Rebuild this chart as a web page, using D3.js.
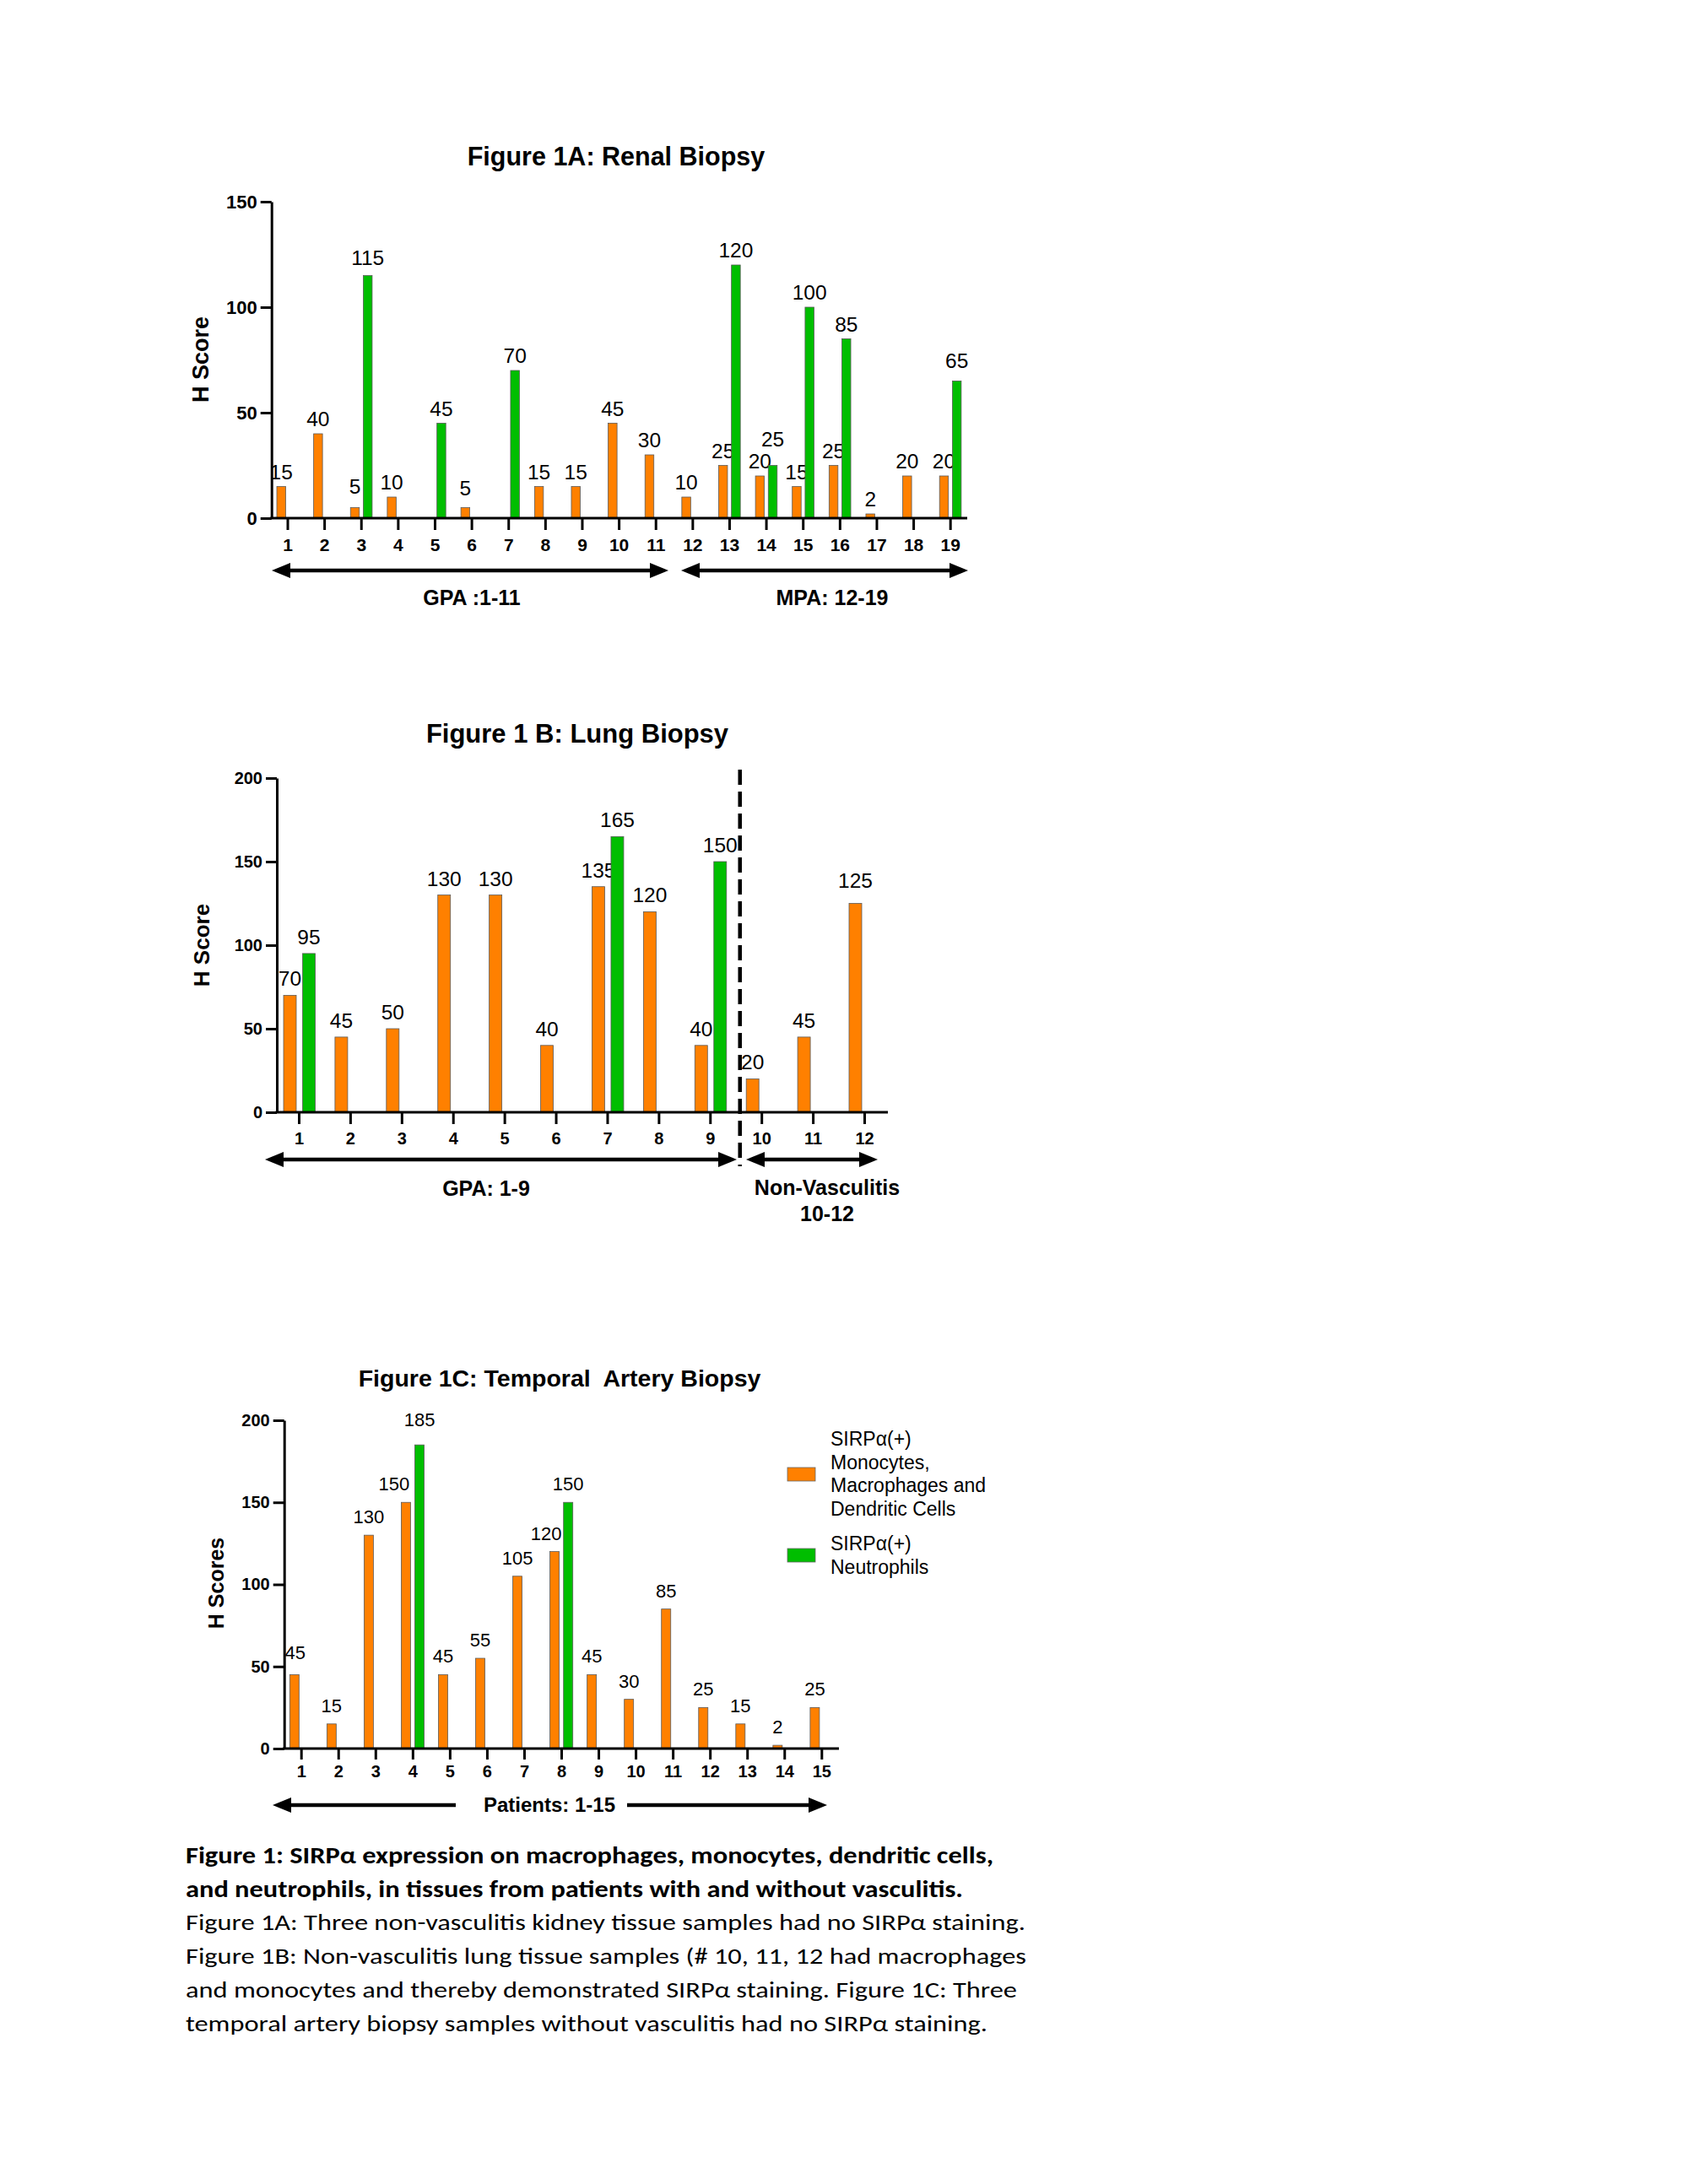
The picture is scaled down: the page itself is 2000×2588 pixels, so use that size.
<!DOCTYPE html>
<html>
<head>
<meta charset="utf-8">
<script src="https://cdn.jsdelivr.net/npm/d3@7"></script>
<style>
  body { margin: 0; background: #fff; }
  svg { display: block; }
  text { font-family: "Liberation Sans", Arial, sans-serif; fill: #000; }
</style>
</head>
<body>
<svg id="fig" width="2000" height="2588"></svg>
<script>
// ── Figura 1A: biopsia renal ──
const renalPatients = ["1","2","3","4","5","6","7","8","9","10","11","12","13","14","15","16","17","18","19"];
const renalMono = [15, 40, 5, 10, null, 5, null, 15, 15, 45, 30, 10, 25, 20, 15, 25, 2, 20, 20];
const renalNeut = [null, null, 115, null, 45, null, 70, null, null, null, null, null, 120, 25, 100, 85, null, null, 65];
const renalTicks = [0, 50, 100, 150];

// ── Figura 1B: biopsia pulmonar ──
const lungPatients = ["1","2","3","4","5","6","7","8","9","10","11","12"];
const lungMono = [70, 45, 50, 130, 130, 40, 135, 120, 40, 20, 45, 125];
const lungNeut = [95, null, null, null, null, null, 165, null, 150, null, null, null];
const lungTicks = [0, 50, 100, 150, 200];

// ── Figura 1C: biopsia de arteria temporal ──
const arteryPatients = ["1","2","3","4","5","6","7","8","9","10","11","12","13","14","15"];
const arteryMono = [45, 15, 130, 150, 45, 55, 105, 120, 45, 30, 85, 25, 15, 2, 25];
const arteryNeut = [null, null, null, 185, null, null, null, 150, null, null, null, null, null, null, null];
const arteryTicks = [0, 50, 100, 150, 200];

const legendLabels = [
  ["SIRPα(+)", "Monocytes,", "Macrophages and", "Dendritic Cells"],
  ["SIRPα(+)", "Neutrophils"]
];

const captionLines = [
  "Figure 1: SIRPα expression on macrophages, monocytes, dendritic cells,",
  "and neutrophils, in tissues from patients with and without vasculitis.",
  "Figure 1A: Three non-vasculitis kidney tissue samples had no SIRPα staining.",
  "Figure 1B: Non-vasculitis lung tissue samples (# 10, 11, 12 had macrophages",
  "and monocytes and thereby demonstrated SIRPα staining. Figure 1C: Three",
  "temporal artery biopsy samples without vasculitis had no SIRPα staining."
];
const captionWidths = [957, 921, 995, 996, 985, 950];

const ORANGE = "#FF8000";
const GREEN = "#00BE00";

// ajustes manuales de etiquetas (como en el original), clave "serie-paciente": [dx, dy]
const nudgeA = { "neut-14": [0, -14], "neut-3": [0, -4], "neut-19": [0, -7], "mono-3": [0, -8], "mono-6": [0, -6] };
const nudgeB = { "mono-12": [0, -8] };
const nudgeC = { "mono-4": [-14, 0], "mono-8": [-10, 0], "neut-4": [0, -8], "mono-1": [1, -4] };

const svg = d3.select("#fig");

function arrow(g, xa, xb, y, leftHead, rightHead, hl, hh) {
  g.append("line")
    .attr("x1", leftHead ? xa + hl - 2 : xa).attr("x2", rightHead ? xb - hl + 2 : xb)
    .attr("y1", y).attr("y2", y)
    .attr("stroke", "#000").attr("stroke-width", 4.5);
  if (leftHead) g.append("path")
    .attr("d", `M${xa},${y} L${xa + hl},${y - hh} L${xa + hl},${y + hh} Z`).attr("fill", "#000");
  if (rightHead) g.append("path")
    .attr("d", `M${xb},${y} L${xb - hl},${y - hh} L${xb - hl},${y + hh} Z`).attr("fill", "#000");
}

function panel(p) {
  const g = svg.append("g");
  const x = d3.scalePoint().domain(p.cats).range([p.x1, p.xN]);
  const y = d3.scaleLinear().domain([0, p.yMax]).range([p.y0, p.yTop]);
  const nudge = p.nudge || {};

  // Barras + etiquetas de valor
  [
    { key: "mono", vals: p.mono, color: ORANGE, off: p.monoOff },
    { key: "neut", vals: p.neut, color: GREEN, off: p.neutOff }
  ].forEach(s => {
    const data = p.cats.map((c, i) => ({ c, v: s.vals[i], n: nudge[s.key + "-" + c] || [0, 0] }))
      .filter(d => d.v != null);
    g.append("g").selectAll("rect").data(data).join("rect")
      .attr("x", d => x(d.c) + s.off).attr("width", p.barW)
      .attr("y", d => y(d.v)).attr("height", d => y(0) - y(d.v))
      .attr("fill", s.color).attr("stroke", "#5a5a5a").attr("stroke-width", 0.8);
    g.append("g").selectAll("text").data(data).join("text")
      .attr("x", d => x(d.c) + s.off + p.barW / 2 + d.n[0])
      .attr("y", d => y(d.v) - p.labGap + d.n[1])
      .attr("text-anchor", "middle").attr("font-size", p.labFs)
      .text(d => d.v);
  });

  // Eje Y
  const ya = g.append("g").attr("transform", `translate(${p.axisX},0)`)
    .call(d3.axisLeft(y).tickValues(p.yTicks).tickSize(13).tickSizeOuter(0).tickPadding(4));
  ya.selectAll("path, line").attr("stroke", "#000").attr("stroke-width", 3);
  ya.selectAll("text").attr("font-size", p.yFs).attr("font-weight", "bold");

  // Eje X
  g.append("line")
    .attr("x1", p.axisX - 1.5).attr("x2", p.axisEnd)
    .attr("y1", p.y0).attr("y2", p.y0)
    .attr("stroke", "#000").attr("stroke-width", 3);
  const xa = g.append("g").attr("transform", `translate(0,${p.y0})`)
    .call(d3.axisBottom(x).tickSize(p.xTickLen).tickPadding(p.xPad));
  xa.select(".domain").remove();
  xa.selectAll("line").attr("stroke", "#000").attr("stroke-width", 3);
  xa.selectAll("text").attr("font-size", p.xFs).attr("font-weight", "bold");

  // Título del eje Y
  g.append("text")
    .attr("transform", `translate(${p.yLab[0]},${p.yLab[1]}) rotate(-90)`)
    .attr("text-anchor", "middle").attr("dominant-baseline", "central")
    .attr("font-size", p.yLabFs).attr("font-weight", "bold")
    .text(p.yLabel);

  // Título
  g.append("text")
    .attr("x", p.title[0]).attr("y", p.title[1])
    .attr("text-anchor", "middle").attr("font-size", p.titleFs).attr("font-weight", "bold")
    .style("white-space", "pre")
    .text(p.titleText);

  return { g, x, y };
}

// ── 1A ──
const A = panel({
  cats: renalPatients, mono: renalMono, neut: renalNeut, yTicks: renalTicks, yMax: 150,
  x1: 340.5, xN: 1125.7, axisX: 321.7, axisEnd: 1146, y0: 614, yTop: 239,
  barW: 10.5, monoOff: -12.5, neutOff: 2.7, labGap: 9, labFs: 24.5, nudge: nudgeA,
  yFs: 22, xFs: 21, xTickLen: 14, xPad: 10,
  yLab: [238, 426], yLabFs: 27, yLabel: "H Score",
  title: [730, 196], titleFs: 30.5, titleText: "Figure 1A: Renal Biopsy"
});
arrow(A.g, 322, 792, 676, true, true, 22, 9);
arrow(A.g, 807, 1147, 676, true, true, 22, 9);
A.g.append("text").attr("x", 559).attr("y", 717).attr("text-anchor", "middle")
  .attr("font-size", 25).attr("font-weight", "bold").text("GPA :1-11");
A.g.append("text").attr("x", 986).attr("y", 717).attr("text-anchor", "middle")
  .attr("font-size", 25).attr("font-weight", "bold").text("MPA: 12-19");

// ── 1B ──
const B = panel({
  cats: lungPatients, mono: lungMono, neut: lungNeut, yTicks: lungTicks, yMax: 200,
  x1: 354, xN: 1024, axisX: 328, axisEnd: 1052, y0: 1318, yTop: 922,
  barW: 15, monoOff: -18, neutOff: 4.5, labGap: 11, labFs: 24.5, nudge: nudgeB,
  yFs: 20, xFs: 20, xTickLen: 14, xPad: 10,
  yLab: [239, 1120], yLabFs: 26, yLabel: "H Score",
  title: [684, 880], titleFs: 31, titleText: "Figure 1 B: Lung Biopsy"
});
const splitX = (B.x("9") + B.x("10")) / 2 + 5;
B.g.append("line")
  .attr("x1", splitX).attr("x2", splitX).attr("y1", 912).attr("y2", 1382)
  .attr("stroke", "#000").attr("stroke-width", 4.5).attr("stroke-dasharray", "18,8");
arrow(B.g, 314, 873, 1374, true, true, 22, 9);
arrow(B.g, 884, 1040, 1374, true, true, 22, 9);
B.g.append("text").attr("x", 576).attr("y", 1417).attr("text-anchor", "middle")
  .attr("font-size", 25).attr("font-weight", "bold").text("GPA: 1-9");
B.g.append("text").attr("x", 980).attr("y", 1416).attr("text-anchor", "middle")
  .attr("font-size", 25).attr("font-weight", "bold").text("Non-Vasculitis");
B.g.append("text").attr("x", 980).attr("y", 1447).attr("text-anchor", "middle")
  .attr("font-size", 25).attr("font-weight", "bold").text("10-12");

// ── 1C ──
const C = panel({
  cats: arteryPatients, mono: arteryMono, neut: arteryNeut, yTicks: arteryTicks, yMax: 200,
  x1: 356.7, xN: 973.3, axisX: 336.7, axisEnd: 994, y0: 2072, yTop: 1683,
  barW: 11, monoOff: -13.4, neutOff: 2.7, labGap: 14, labFs: 22, nudge: nudgeC,
  yFs: 20, xFs: 20, xTickLen: 13, xPad: 7,
  yLab: [256, 1876], yLabFs: 25, yLabel: "H Scores",
  title: [663, 1643], titleFs: 28.5, titleText: "Figure 1C: Temporal  Artery Biopsy"
});
arrow(C.g, 323, 540, 2139, true, false, 22, 9);
arrow(C.g, 743, 980, 2139, false, true, 22, 9);
C.g.append("text").attr("x", 651).attr("y", 2147).attr("text-anchor", "middle")
  .attr("font-size", 24).attr("font-weight", "bold").text("Patients: 1-15");

// Leyenda
const legend = C.g.append("g");
const legColors = [ORANGE, GREEN];
const legSwatchY = [1739, 1835];
const legTextY = [1712.7, 1836.7];
legendLabels.forEach((lines, i) => {
  legend.append("rect").attr("x", 933).attr("y", legSwatchY[i]).attr("width", 33).attr("height", 16)
    .attr("fill", legColors[i]).attr("stroke", "#666").attr("stroke-width", 0.8);
  legend.append("g").selectAll("text").data(lines).join("text")
    .attr("x", 984).attr("y", (d, j) => legTextY[i] + j * 27.8)
    .attr("font-size", 23).text(d => d);
});

// ── Pie de figura ──
svg.append("g").selectAll("text").data(captionLines).join("text")
  .attr("x", 220).attr("y", (d, i) => 2208 + i * 39.7)
  .style("font-family", "Carlito, Lato, 'Open Sans', sans-serif")
  .attr("font-size", 27.5)
  .attr("font-weight", (d, i) => i < 2 ? "bold" : "normal")
  .attr("textLength", (d, i) => captionWidths[i])
  .attr("lengthAdjust", "spacingAndGlyphs")
  .text(d => d);
</script>
</body>
</html>
